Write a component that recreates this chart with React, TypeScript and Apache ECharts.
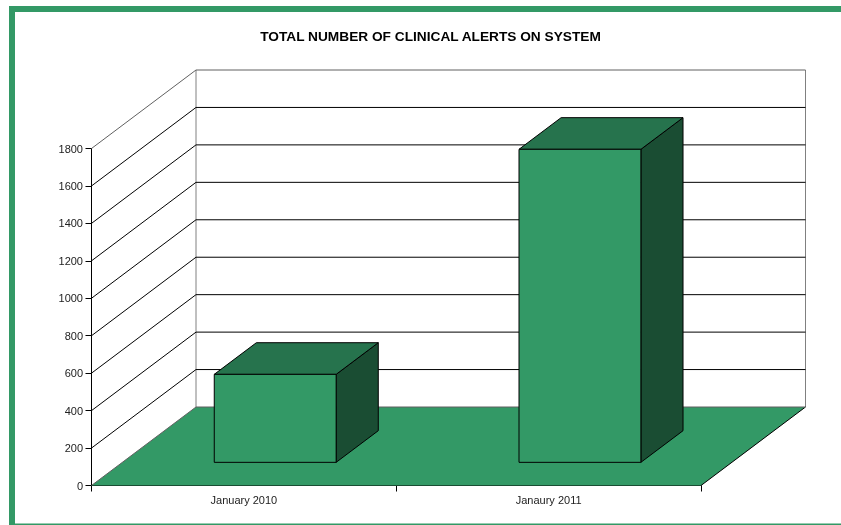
import React, { useEffect, useRef } from "react";
import * as echarts from "echarts";

const categories = ["January 2010", "Janaury 2011"];
const alertTotals = [470, 1672];
const yTicks = [0, 200, 400, 600, 800, 1000, 1200, 1400, 1600, 1800];

const GREEN = "#339966";
const GREEN_TOP = "#26734d";
const GREEN_SIDE = "#1a4d33";
const DEPTH_X = 104.5;
const DEPTH_Y = 78.5;

const App = () => {
  const ref = useRef<HTMLDivElement>(null);
  useEffect(() => {
    document.body.style.margin = "0";
    const chart = echarts.init(ref.current!, null, { renderer: "svg" });
    const ink = (c: string, w = 1) => ({ stroke: c, lineWidth: w, fill: "none" });
    const labelStyle = { fontFamily: "Liberation Sans", fontSize: 11, color: "#222222" };

    chart.setOption({
      animation: false,
      title: {
        text: "TOTAL NUMBER OF CLINICAL ALERTS ON SYSTEM",
        left: 425.5,
        top: 24,
        textAlign: "center",
        textStyle: { fontFamily: "Liberation Sans", fontSize: 13.7, fontWeight: "bold", color: "#000" },
      },
      grid: { left: 91.5, top: 148.5, width: 609.5, height: 337, containLabel: false },
      xAxis: {
        type: "category",
        data: categories,
        axisLine: { lineStyle: { color: "#000", width: 1 } },
        axisTick: { show: true, interval: 0, length: 6, alignWithLabel: false, lineStyle: { color: "#000" } },
        axisLabel: { ...labelStyle, margin: 9 },
        splitLine: { show: false },
      },
      yAxis: {
        type: "value",
        min: 0,
        max: 1800,
        interval: 200,
        axisLine: { show: true, lineStyle: { color: "#000", width: 1 } },
        axisTick: { show: true, length: 6, lineStyle: { color: "#000" } },
        axisLabel: { ...labelStyle, margin: 8.5, formatter: (v: number) => String(v) },
        splitLine: { show: false },
      },
      graphic: [
        // Page frame in the report's green
        { type: "rect", shape: { x: 9, y: 6, width: 6, height: 519 }, style: { fill: GREEN } },
        { type: "rect", shape: { x: 9, y: 6, width: 832, height: 6 }, style: { fill: GREEN } },
        { type: "rect", shape: { x: 9, y: 523.5, width: 832, height: 1.5 }, style: { fill: GREEN } },
      ],
      series: [
        {
          // Floor and the upright edges of the back wall
          type: "custom",
          silent: true,
          z: 1,
          data: [[0, 0]],
          renderItem: (params: any, api: any) => {
            const cs = params.coordSys;
            const l = cs.x;
            const r = cs.x + cs.width;
            const b = api.coord([0, 0])[1];
            const t = api.coord([0, yTicks[yTicks.length - 1]])[1];
            const bl = l + DEPTH_X;
            const br = r + DEPTH_X;
            const by = b - DEPTH_Y;
            const ty = t - DEPTH_Y;
            return {
              type: "group",
              children: [
                {
                  type: "polygon",
                  shape: { points: [[l, b], [r, b], [br, by], [bl, by]] },
                  style: { fill: GREEN },
                },
                { type: "line", shape: { x1: bl, y1: by, x2: bl, y2: ty }, style: ink("#808080") },
                { type: "line", shape: { x1: br, y1: by, x2: br, y2: ty }, style: ink("#808080") },
                { type: "line", shape: { x1: l, y1: b, x2: bl, y2: by }, style: ink("#606060") },
                { type: "line", shape: { x1: r, y1: b, x2: br, y2: by }, style: ink("#000") },
              ],
            };
          },
        },
        {
          // Gridlines wrapping the side wall and the back wall
          type: "custom",
          silent: true,
          z: 2,
          data: yTicks.map((v) => [0, v]),
          renderItem: (params: any, api: any) => {
            const cs = params.coordSys;
            const value = api.value(1);
            const y = api.coord([0, value])[1];
            const l = cs.x;
            const r = cs.x + cs.width;
            const top = value === yTicks[yTicks.length - 1];
            const floor = value === 0;
            const side = top ? "#606060" : "#000";
            const children: any[] = [
              {
                type: "line",
                shape: { x1: l + DEPTH_X, y1: y - DEPTH_Y, x2: r + DEPTH_X, y2: y - DEPTH_Y },
                style: ink(top || floor ? "#606060" : "#000"),
              },
            ];
            if (!floor) {
              children.push({
                type: "line",
                shape: { x1: l, y1: y, x2: l + DEPTH_X, y2: y - DEPTH_Y },
                style: ink(side),
              });
            }
            return { type: "group", children };
          },
        },
        {
          // Extruded columns standing mid-way across the floor
          type: "custom",
          silent: true,
          z: 3,
          data: alertTotals.map((v, i) => [i, v]),
          encode: { x: 0, y: 1 },
          renderItem: (_params: any, api: any) => {
            const base = api.coord([api.value(0), 0]);
            const head = api.coord([api.value(0), api.value(1)]);
            const band = api.size([1, 0])[0];
            const w = band * 0.4;
            const near = 0.295;
            const far = 0.698;
            const x0 = base[0] - w / 2 + DEPTH_X * near + 0.5;
            const x1 = x0 + w;
            const y0 = base[1] - DEPTH_Y * near;
            const y1 = head[1] - DEPTH_Y * near;
            const dx = DEPTH_X * (far - near);
            const dy = DEPTH_Y * (far - near);
            const edge = { stroke: "#000", lineWidth: 1, lineJoin: "round" };
            return {
              type: "group",
              children: [
                {
                  type: "polygon",
                  shape: { points: [[x1, y1], [x1 + dx, y1 - dy], [x1 + dx, y0 - dy], [x1, y0]] },
                  style: { fill: GREEN_SIDE, ...edge },
                },
                {
                  type: "polygon",
                  shape: { points: [[x0, y1], [x0 + dx, y1 - dy], [x1 + dx, y1 - dy], [x1, y1]] },
                  style: { fill: GREEN_TOP, ...edge },
                },
                {
                  type: "rect",
                  shape: { x: x0, y: y1, width: w, height: y0 - y1 },
                  style: { fill: GREEN, ...edge },
                },
              ],
            };
          },
        },
      ],
    });
    return () => chart.dispose();
  }, []);

  // A separate compositing layer keeps the small labels free of colour fringes
  return (
    <div
      ref={ref}
      style={{ position: "fixed", left: 0, top: 0, width: 841, height: 525, willChange: "transform" }}
    />
  );
};

export default App;
